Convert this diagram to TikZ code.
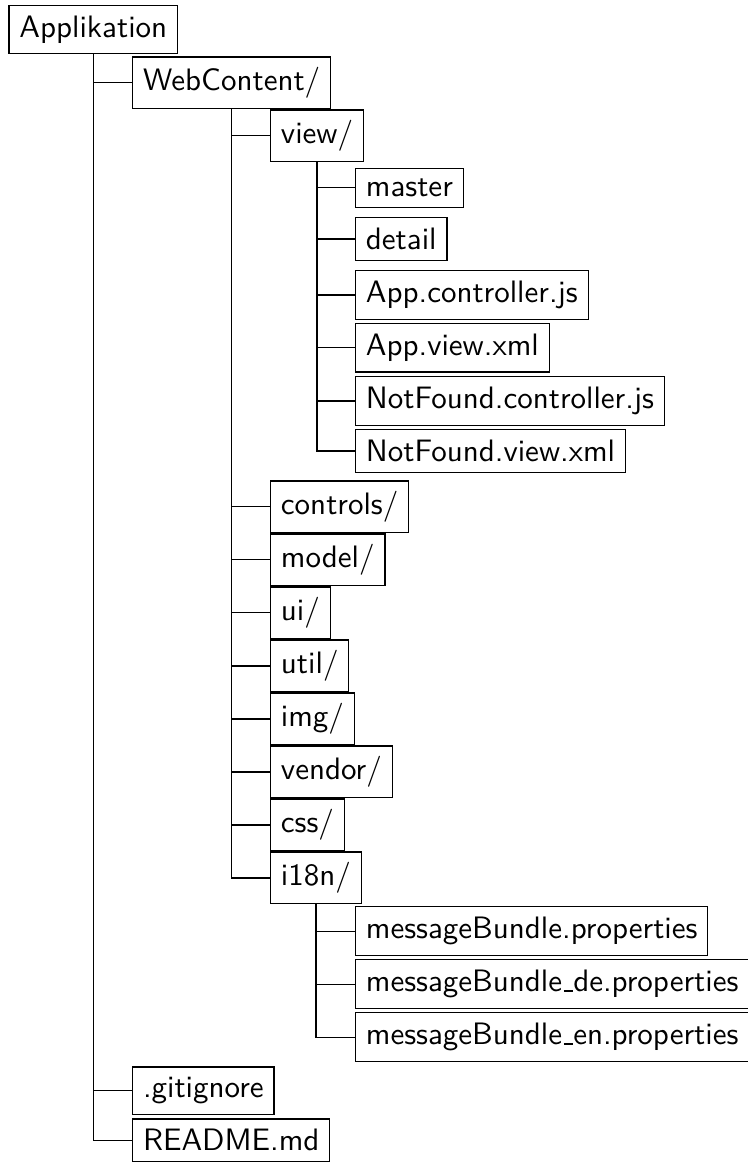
\documentclass[tikz,border=0pt]{standalone}
\usepackage{tikz}

\newcommand\lowbar{\leavevmode\kern.06em\vbox{\hrule width .3em}}

\begin{document}
\begin{tikzpicture}[x=1pt,y=1pt,
        entry/.style={draw, font=\sffamily, anchor=base west}]
            \useasboundingbox (0,0) rectangle (240.97,-374.84);

            % one column per level, one row every 17.1pt
            \node[entry] (app)   at (2.74,-12.1)  {Applikation};
            \node[entry] (web)   at (42.6,-29.2)  {WebContent/};
            \node[entry] (view)  at (87.1,-46.3)  {view/};
            \node[entry] (mast)  at (114.5,-63.4) {master};
            \node[entry] (det)   at (114.5,-80.5) {detail};
            \node[entry] (appc)  at (114.5,-97.6) {App.controller.js};
            \node[entry] (appv)  at (114.5,-114.7) {App.view.xml};
            \node[entry] (nfc)   at (114.5,-131.8) {NotFound.controller.js};
            \node[entry] (nfv)   at (114.5,-148.9) {NotFound.view.xml};
            \node[entry] (ctrl)  at (87.1,-166.0) {controls/};
            \node[entry] (model) at (87.1,-183.1) {model/};
            \node[entry] (ui)    at (87.1,-200.2) {ui/};
            \node[entry] (util)  at (87.1,-217.3) {util/};
            \node[entry] (img)   at (87.1,-234.4) {img/};
            \node[entry] (vend)  at (87.1,-251.5) {vendor/};
            \node[entry] (css)   at (87.1,-268.6) {css/};
            \node[entry] (i18n)  at (87.1,-285.7) {i18n/};
            \node[entry] (mb)    at (114.5,-302.8) {messageBundle.properties};
            \node[entry] (mbde)  at (114.5,-319.9) {messageBundle\lowbar de.properties};
            \node[entry] (mben)  at (114.5,-337.0) {messageBundle\lowbar en.properties};
            \node[entry] (git)   at (42.6,-354.1) {.gitignore};
            \node[entry] (readme) at (42.6,-371.2) {README.md};

            \foreach \p/\c in {app/web, app/git, app/readme,
                web/view, web/ctrl, web/model, web/ui, web/util, web/img, web/vend, web/css, web/i18n,
                view/mast, view/det, view/appc, view/appv, view/nfc, view/nfv,
                i18n/mb, i18n/mbde, i18n/mben}
                \draw (\p.south) |- (\c.west);
            %\draw (app.south) |- (readme.west);

        \end{tikzpicture}
\end{document}
